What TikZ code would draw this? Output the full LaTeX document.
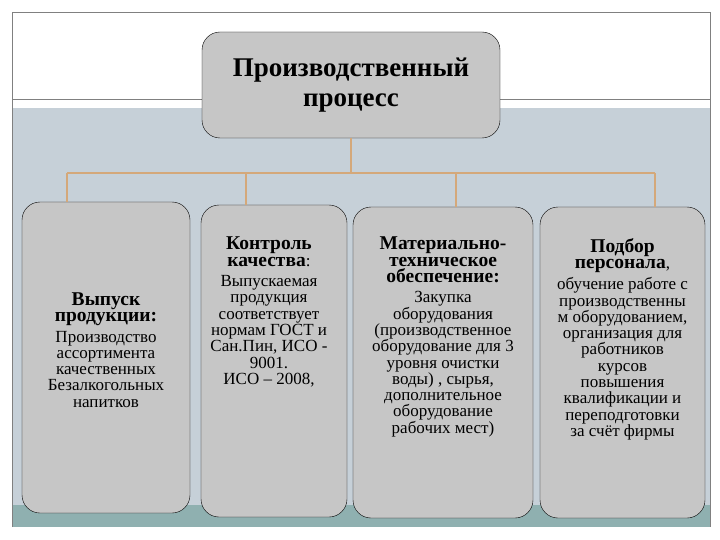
\documentclass[tikz,border=0pt]{standalone}
\usepackage{fontspec}
\setmainfont{Liberation Serif}
\newcommand\hdline[1]{{\bfseries\fontsize{19.5}{20.5}\selectfont #1}}
\begin{document}
\begin{tikzpicture}[x=1pt,y=-1pt,
 box/.style={draw=black,fill=boxgray,rounded corners=18pt,align=center,inner sep=2pt},
 conn/.style={draw=tan,line width=2pt},
 txt/.style={align=center,font=\fontsize{17}{16.3}\selectfont,inner sep=0pt}]
\definecolor{boxgray}{RGB}{198,198,198}
\definecolor{tan}{RGB}{212,168,122}
\definecolor{bgblue}{RGB}{198,208,216}
\definecolor{teal}{RGB}{143,176,176}
\useasboundingbox (0,0) rectangle (720,540);
\fill[white] (0,0) rectangle (720,540);
\fill[bgblue] (12,108) rectangle (710,505);
\fill[teal] (12,505) rectangle (710,527);
\draw[gray,line width=0.6pt] (12,527) -- (12,12) -- (710,12) -- (710,527);
\draw[gray,line width=1pt] (12,100) -- (710,100);
\node[box,minimum width=298pt,minimum height=106pt,font=\bfseries\fontsize{27}{30}\selectfont] (top) at (351,85) {Производственный\\процесс};
\node[box,minimum width=168pt,minimum height=311pt] (b1) at (106,357.5) {};
\node[box,minimum width=146pt,minimum height=312pt] (b2) at (274,361) {};
\node[box,minimum width=180pt,minimum height=311pt] (b3) at (443,362.5) {};
\node[box,minimum width=165pt,minimum height=311pt] (b4) at (622.5,362.5) {};
\coordinate (hub) at (351,173);
\draw[conn] (top.south) -- (hub);
\draw[conn] (67,173) -- (655,173);
\draw[conn] (67,173) -- (67,202);
\draw[conn] (246,173) -- (246,205);
\draw[conn] (456,173) -- (456,207);
\draw[conn] (655,173) -- (655,207);
\node[txt] (t1) at (106,350) {\hdline{Выпуск}\\\hdline{продукции:}\\[4pt]Производство\\ассортимента\\качественных\\Безалкогольных\\напитков};
\node[txt,anchor=north] (t2) at (269,237) {\hdline{Контроль}\\\hdline{качества}:\\[4pt]Выпускаемая\\продукция\\соответствует\\нормам ГОСТ и\\Сан.Пин, ИСО -\\9001.\\ИСО – 2008,};
\node[txt,anchor=north] (t3) at (443,237) {\hdline{Материально-}\\\hdline{техническое}\\\hdline{обеспечение:}\\[4pt]Закупка\\оборудования\\(производственное\\оборудование для 3\\уровня очистки\\воды) , сырья,\\дополнительное\\оборудование\\рабочих мест)};
\node[txt,anchor=north] (t4) at (622.5,238) {\hdline{Подбор}\\\hdline{персонала},\\[4pt]обучение работе с\\производственны\\м оборудованием,\\организация для\\работников\\курсов\\повышения\\квалификации и\\переподготовки\\за счёт фирмы};
\end{tikzpicture}
\end{document}
